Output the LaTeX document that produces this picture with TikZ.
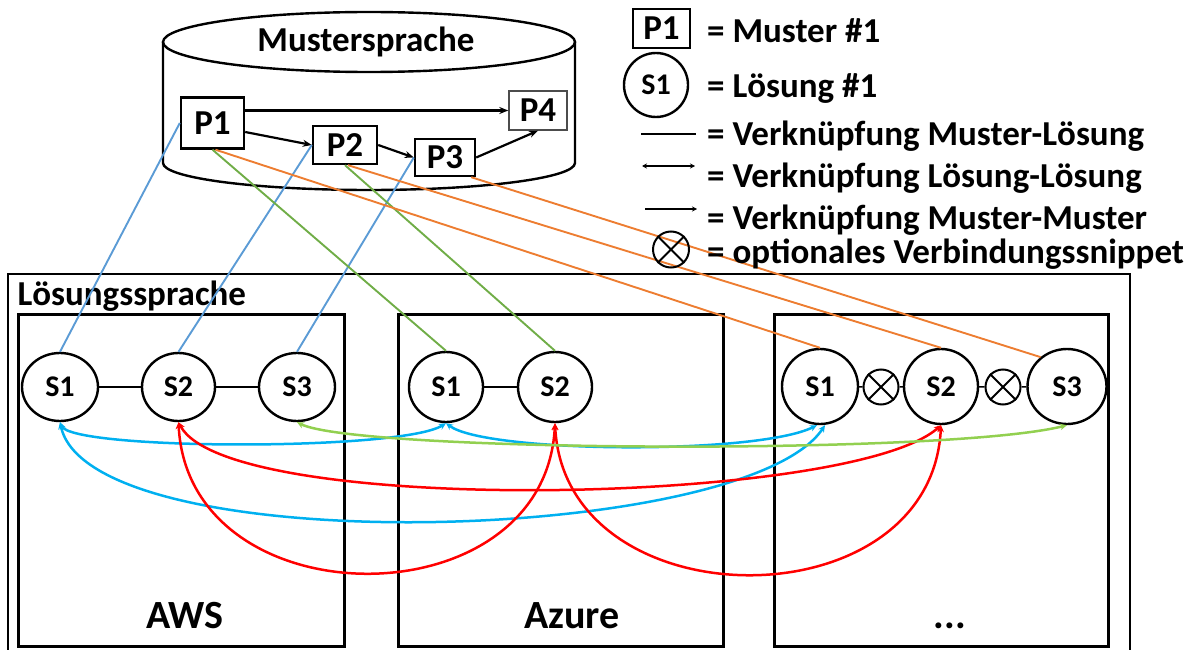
\documentclass[tikz,border=0pt]{standalone}
\usepackage{fontspec}
\setmainfont{Carlito}
\usetikzlibrary{shapes.geometric,arrows.meta}

\definecolor{mlblue}{HTML}{5B9BD5}
\definecolor{mlgreen}{HTML}{70AD47}
\definecolor{mlorange}{HTML}{ED7D31}
\definecolor{llcyan}{HTML}{00B0F0}
\definecolor{llred}{HTML}{FF0000}
\definecolor{lllime}{HTML}{92D050}

\begin{document}
\begin{tikzpicture}[x=1pt,y=1pt,
  big/.style={font=\fontsize{35}{35}\selectfont\bfseries},
  pat/.style={draw,line width=2.4pt,minimum width=63pt,minimum height=38pt,inner sep=0pt,big},
  sol/.style={draw,ellipse,line width=2.4pt,minimum width=76pt,minimum height=68pt,inner sep=0pt,font=\fontsize{30}{30}\selectfont\bfseries},
  snip/.style={draw,circle,line width=2pt,minimum size=35pt,inner sep=0pt},
  env/.style={draw,line width=2.6pt,minimum height=332pt,inner sep=0pt,anchor=north west},
  mm/.style={line width=2.2pt,-{Stealth[length=9pt,width=7pt]}},
  ml/.style={line width=1.9pt},
  ll/.style={line width=2.5pt,{Stealth[length=7pt,width=6.5pt]}-{Stealth[length=7pt,width=6.5pt]}}]
  \useasboundingbox (0,0) rectangle (1197,-650);

  % Mustersprache
  \draw[line width=2.4pt] (163,-42) -- (163,-163) arc[start angle=180,end angle=360,x radius=206,y radius=27] -- (575,-42);
  \draw[line width=2.4pt] (369,-42) ellipse[x radius=206,y radius=30];
  \node[big] (lang) at (366,-42) {Mustersprache};

  \node[pat,minimum height=51pt] (p1) at (212.5,-123) {P1};
  \node[pat,minimum width=64pt] (p2) at (345,-145) {P2};
  \node[pat,minimum width=60pt,minimum height=37pt] (p3) at (445,-157.5) {P3};
  \node[pat,minimum width=58pt,minimum height=39pt,line width=1.4pt,draw=black!70] (p4) at (538,-110.5) {P4};

  \draw[mm] (p1.east |- p4.west) -- (p4.west);
  \draw[mm] ([yshift=-9pt]p1.east) -- (p2.west);
  \draw[mm] (p2.east) -- (p3.west);
  \draw[mm] (p3.east) -- (p4.south);

  % Loesungssprache
  \draw[line width=2.6pt] (8,-652) |- (1130,-274) -- (1130,-652);
  \node[big,anchor=base west] (sl) at (14,-305) {Lösungssprache};

  \node[env,minimum width=326pt] (aws) at (17,-313) {};
  \node[env,minimum width=325pt] (azure) at (397,-313) {};
  \node[env,minimum width=334pt] (other) at (773,-313) {};
  \node[font=\fontsize{40}{40}\selectfont\bfseries,anchor=base] (awsl) at (185,-628) {AWS};
  \node[font=\fontsize{40}{40}\selectfont\bfseries,anchor=base] (azurel) at (572,-628) {Azure};
  \node[font=\fontsize{40}{40}\selectfont\bfseries,anchor=base] (otherl) at (950,-628) {...};

  \node[sol] (a1) at (60,-387) {S1};
  \node[sol,minimum width=73pt] (a2) at (178.5,-387) {S2};
  \node[sol] (a3) at (297,-387) {S3};
  \node[sol,minimum width=74pt,minimum height=70pt] (z1) at (446,-387) {S1};
  \node[sol,minimum width=74pt,minimum height=70pt] (z2) at (555,-387) {S2};
  \node[sol,minimum height=75pt] (c1) at (820,-386.5) {S1};
  \node[sol,minimum width=74pt,minimum height=75pt] (c2) at (941,-386.5) {S2};
  \node[sol,minimum width=79pt,minimum height=75pt] (c3) at (1067,-386.5) {S3};
  \node[snip] (x1) at (881,-387) {};
  \node[snip] (x2) at (1003,-387) {};
  \foreach \s in {x1,x2}
    \draw[line width=2pt] (\s.45) -- (\s.225) (\s.135) -- (\s.315);

  \draw[line width=2.2pt] (a1) -- (a2) -- (a3);
  \draw[line width=2.2pt] (z1) -- (z2);
  \draw[line width=1.6pt] (c1) -- (x1) -- (c2) -- (x2) -- (c3);

  % Muster-Loesung
  \draw[ml,mlblue] (p1.west) -- (a1.north);
  \draw[ml,mlblue] (p2.west) -- (a2.north);
  \draw[ml,mlblue] (p3.west) -- (a3.north);
  \draw[ml,mlgreen] (p1.south) -- (z1.north);
  \draw[ml,mlgreen] (p2.south) -- (z2.north);
  \draw[ml,mlorange] ([xshift=3pt]p1.south) -- (c1.north);
  \draw[ml,mlorange] ([xshift=3pt]p2.south) -- (c2.north);
  \draw[ml,mlorange] ([xshift=-5pt]p3.south east) -- (c3.132);

  % Loesung-Loesung
  \draw[ll,llcyan] (a1.south) .. controls +(12,-28) and +(-45,-28) .. (z1.south);
  \draw[ll,llcyan] (z1.south) .. controls +(40,-30) and +(-60,-30) .. ([xshift=-3pt]c1.south);
  \draw[ll,llcyan] (a1.south) .. controls +(30,-140) and +(-80,-120) .. ([xshift=5pt]c1.south);
  \draw[ll,llred] (a2.south) .. controls +(50,-95) and +(-90,-80) .. (c2.south);
  \draw[ll,llred] (a2.south) .. controls +(10,-200) and +(-10,-200) .. (z2.south);
  \draw[ll,llred] (z2.south) .. controls +(10,-200) and +(-10,-200) .. (c2.south);
  \draw[ll,lllime] (a3.south) .. controls +(60,-30) and +(-120,-30) .. (c3.south);

  % Legende
  \node[pat,minimum width=57pt,minimum height=39pt] (lp) at (661.5,-28.5) {P1};
  \node[sol,minimum width=64pt,minimum height=64pt] (ls) at (656,-85) {S1};
  \coordinate (l3a) at (641,-134); \coordinate (l3b) at (696,-134);
  \coordinate (l4a) at (642,-166); \coordinate (l4b) at (695,-166);
  \coordinate (l5a) at (645,-209); \coordinate (l5b) at (697,-209);
  \draw[line width=1.7pt] (l3a) -- (l3b);
  \draw[line width=1.7pt,{Stealth[length=5pt,width=5pt]}-{Stealth[length=5pt,width=5pt]}] (l4a) -- (l4b);
  \draw[line width=1.7pt,-{Stealth[length=5pt,width=5pt]}] (l5a) -- (l5b);
  \node[snip,minimum size=36pt] (lx) at (671,-249.5) {};
  \draw[line width=2pt] (lx.45) -- (lx.225) (lx.135) -- (lx.315);
  \foreach \y/\t [count=\i] in {43/{= Muster \#1},98/{= Lösung \#1},146/{= Verknüpfung Muster-Lösung},
      187/{= Verknüpfung Lösung-Lösung},229/{= Verknüpfung Muster-Muster},263/{= optionales Verbindungssnippet}}
    \node[big,anchor=base west,inner sep=0pt] (lt\i) at (707,-\y) {\t};
\end{tikzpicture}
\end{document}
